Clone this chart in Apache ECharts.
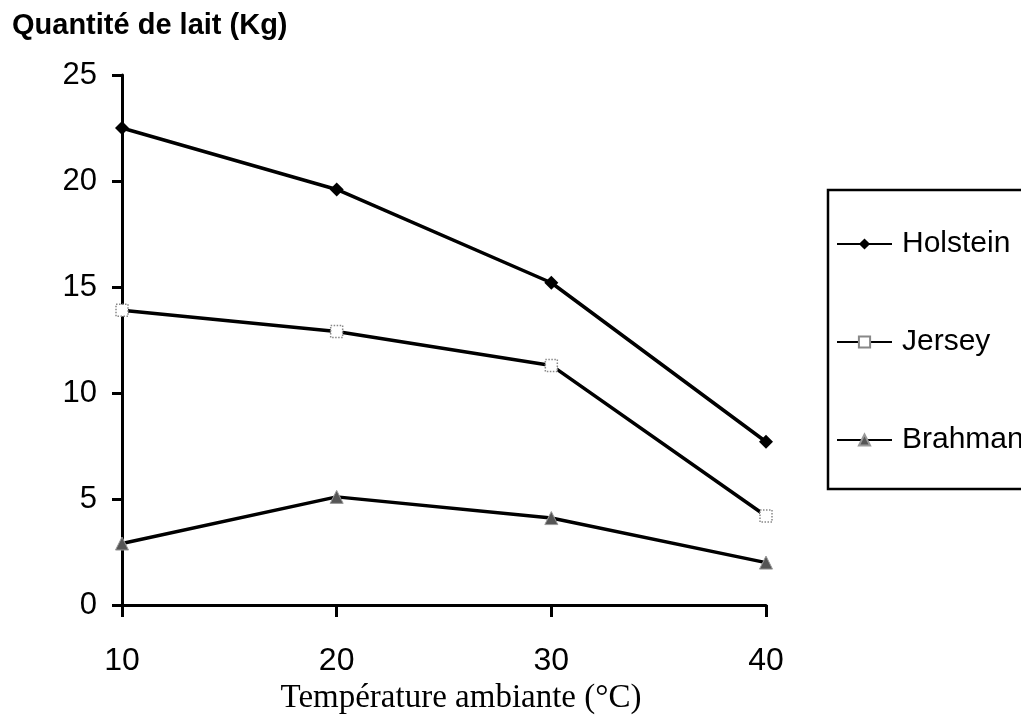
<!DOCTYPE html>
<html>
<head>
<meta charset="utf-8">
<script src="https://cdn.jsdelivr.net/npm/echarts@6/dist/echarts.min.js"></script>
<style>
html,body{margin:0;padding:0;background:#fff;}
#chart{width:1021px;height:724px;}
</style>
</head>
<body>
<div id="chart"></div>
<script>
// Data
const temperatures = [10, 20, 30, 40];
const holstein = [22.5, 19.6, 15.2, 7.7];
const jersey = [13.9, 12.9, 11.3, 4.2];
const brahman = [2.9, 5.1, 4.1, 2.0];
const seriesNames = ['Holstein', 'Jersey', 'Brahman'];
const yTicks = [0, 5, 10, 15, 20, 25];
const xTicks = [10, 20, 30, 40];
const yTitle = 'Quantité de lait (Kg)';
const xTitle = 'Température ambiante (°C)';

const sans = "'Liberation Sans', Arial, sans-serif";
const pair = (vals) => temperatures.map((t, i) => [t, vals[i]]);

const chart = echarts.init(document.getElementById('chart'), null, {renderer: 'canvas'});
chart.setOption({
  animation: false,
  backgroundColor: '#fff',
  title: {
    text: yTitle,
    left: 12, top: 10, padding: 0,
    textStyle: {fontFamily: sans, fontWeight: 'bold', fontSize: 29, color: '#000', lineHeight: 31}
  },
  grid: {left: 122, right: 255, top: 75, bottom: 119, containLabel: false},
  xAxis: {
    type: 'value', min: xTicks[0], max: xTicks[xTicks.length - 1], interval: 10,
    name: xTitle, nameLocation: 'middle', nameGap: 76,
    nameTextStyle: {fontFamily: "'Liberation Serif', 'Times New Roman', serif", fontSize: 33, color: '#000', padding: [0, 0, 0, 34]},
    axisLine: {lineStyle: {color: '#000', width: 3}},
    axisTick: {show: true, length: 12, lineStyle: {color: '#000', width: 3}},
    axisLabel: {color: '#000', fontFamily: sans, fontSize: 32, margin: 40},
    splitLine: {show: false}
  },
  yAxis: {
    type: 'value', min: yTicks[0], max: yTicks[yTicks.length - 1], interval: 5,
    axisLine: {show: true, lineStyle: {color: '#000', width: 3}},
    axisTick: {show: true, length: 10, lineStyle: {color: '#000', width: 3}},
    axisLabel: {color: '#000', fontFamily: sans, fontSize: 31, margin: 25},
    splitLine: {show: false}
  },
  legend: {
    orient: 'vertical', left: 828, top: 190,
    padding: [39, 60, 34, 8],
    itemGap: 68, itemWidth: 55, itemHeight: 14,
    borderColor: '#000', borderWidth: 2.5,
    textStyle: {fontFamily: sans, fontSize: 30, color: '#000', padding: [0, 0, 0, 5]},
    data: seriesNames
  },
  series: [
    {
      name: seriesNames[0], type: 'line', data: pair(holstein),
      symbol: 'diamond', symbolSize: 14,
      lineStyle: {color: '#000', width: 3.5},
      itemStyle: {color: '#000'}
    },
    {
      name: seriesNames[1], type: 'line', data: pair(jersey),
      symbol: 'rect', symbolSize: 12,
      lineStyle: {color: '#000', width: 3.5},
      itemStyle: {color: '#fff', borderColor: '#888', borderWidth: 1.5, borderType: 'dotted'}
    },
    {
      name: seriesNames[2], type: 'line', data: pair(brahman),
      symbol: 'triangle', symbolSize: 13,
      lineStyle: {color: '#000', width: 3.5},
      itemStyle: {color: '#555', borderColor: '#999', borderWidth: 1}
    }
  ]
});
</script>
</body>
</html>
